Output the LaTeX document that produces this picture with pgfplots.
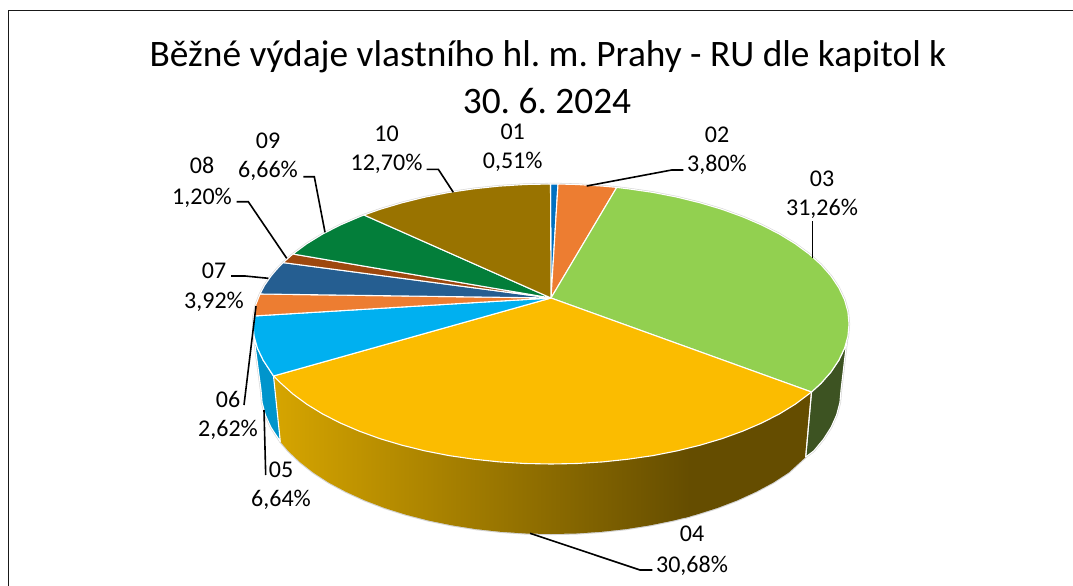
\documentclass[border=0pt]{standalone}
\usepackage{fontspec}
\setmainfont{Carlito}
\usepackage{pgfplots}
\usepackage{pgfplotstable}
\pgfplotsset{compat=1.18}
\frenchspacing

\definecolor{c01}{HTML}{0070C0}
\definecolor{c02}{HTML}{ED7D31}
\definecolor{c03}{HTML}{92D050}
\definecolor{c04}{HTML}{FBBC00}
\definecolor{c05}{HTML}{00B0F0}
\definecolor{c06}{HTML}{ED7D31}
\definecolor{c07}{HTML}{255E91}
\definecolor{c08}{HTML}{9E480E}
\definecolor{c09}{HTML}{037E3A}
\definecolor{c10}{HTML}{997300}
\definecolor{w03}{HTML}{3D5322}
\definecolor{w05}{HTML}{0095CC}
\definecolor{w04a}{HTML}{D6A500}
\definecolor{w04b}{HTML}{654D00}
\definecolor{rimgray}{HTML}{D4D4D4}

% top faces, pixel positions
\pgfplotstableread{
x y
551 298
550.5 184
558 184
}\sOne
\pgfplotstableread{
x y
551 298
558 184
577 184.5
602.7 186.1
616.7 187.4
}\sTwo
\pgfplotstableread{
x y
551 298
616.7 187.4
628.1 188.8
652.9 192.4
676.9 197.1
700 202.8
721.9 209.3
742.6 216.8
761.7 225
779.3 234
795.1 243.7
809.1 254
821.1 264.8
831 276.1
838.8 287.8
844.5 299.7
847.9 311.8
849 324
847.9 336.2
844.5 348.3
838.8 360.2
831 371.9
821.1 383.2
811.5 392
}\sThree
\pgfplotstableread{
x y
551 298
811.5 392
795.1 404.3
779.3 414
761.7 423
742.6 431.2
721.9 438.7
700 445.2
676.9 450.9
652.9 455.6
628.1 459.2
602.7 461.9
577 463.5
551 464
525 463.5
499.3 461.9
473.9 459.2
449.1 455.6
425.1 450.9
402 445.2
380.1 438.7
359.4 431.2
340.3 423
322.7 414
306.9 404.3
292.9 394
280.9 383.2
273.5 376
}\sFour
\pgfplotstableread{
x y
551 298
273.5 376
263.2 360.2
257.5 348.3
254.1 336.2
253 324
253.5 316
}\sFive
\pgfplotstableread{
x y
551 298
253.5 316
255.9 304.5
260 294
}\sSix
\pgfplotstableread{
x y
551 298
260 294
264.5 285.4
271 276.1
276.7 269.3
283.2 262.6
}\sSeven
\pgfplotstableread{
x y
551 298
283.2 262.6
292.9 254
}\sEight
\pgfplotstableread{
x y
551 298
292.9 254
306.9 243.7
322.7 234
340.3 225
359.4 216.8
364 215
}\sNine
\pgfplotstableread{
x y
551 298
364 215
380.1 209.3
402 202.8
425.1 197.1
449.1 192.4
473.9 188.8
499.3 186.1
525 184.5
550.5 184
}\sTen

% side walls
\pgfplotstableread{
x y
846.8 341
844.5 348.3
838.8 360.2
831 371.9
821.1 383.2
811.5 392
805.7 457
813.8 450.9
823.5 439.2
831.1 427.3
836.6 415
839.9 402.6
841 390
}\wThree
\pgfplotstableread{
x y
685 449
700 445.2
721.9 438.7
742.6 431.2
761.7 423
779.3 414
795.1 404.3
811.5 392
805.7 457
788.6 472.6
773.2 482.6
756 491.8
737.4 500.3
717.3 508
696 514.7
685 517.7
}\wFourDark
\pgfplotstableread{
x y
690 447.8
676.9 450.9
652.9 455.6
628.1 459.2
602.7 461.9
577 463.5
551 464
525 463.5
499.3 461.9
473.9 459.2
449.1 455.6
425.1 450.9
402 445.2
380.1 438.7
359.4 431.2
340.3 423
322.7 414
306.9 404.3
292.9 394
280.9 383.2
273.5 376
280.3 441.6
288.2 450.9
299.9 462
313.4 472.6
328.8 482.6
346 491.8
364.6 500.3
384.7 508
406 514.7
428.4 520.5
451.8 525.3
475.9 529.1
500.6 531.8
525.7 533.5
551 534
576.3 533.5
601.4 531.8
626.1 529.1
650.2 525.3
673.6 520.5
690 516.4
}\wFourGrad
\pgfplotstableread{
x y
273.5 376
263.2 360.2
257.5 348.3
254.1 336.2
253 330
261 390
262.1 402.6
265.4 415
270.9 427.3
280.3 441.6
}\wFive

\newcommand{\rim}[1]{\addplot[draw=rimgray,line width=2.2bp,line join=round] table {#1} -- cycle;}
\newcommand{\slice}[2]{\addplot[fill=#2,draw=white,line width=1.1bp,line join=round] table {#1} -- cycle;}
\newcommand{\leader}[1]{\addplot[black,line width=1.6bp] coordinates {#1};}
\newcommand{\lab}[5]{%
  \node[anchor=base,inner sep=0pt] at (#1,#2) {#3};
  \node[anchor=base,inner sep=0pt] at (#1,#4) {#5};}

\begin{document}
\begin{tikzpicture}
\begin{axis}[
    scale only axis,
    width=1073bp,
    height=586bp,
    xmin=0, xmax=1073,
    ymin=0, ymax=586,
    y dir=reverse,
    hide axis,
    clip=true,
    font=\fontsize{24.1}{29}\selectfont,
]
% keeps the page as large as the whole plot area
\addplot[draw=none] coordinates {(0,0) (1073,586)};
% chart frame
\addplot[draw=black!90,line width=1.6bp] coordinates {(1073,10.5) (8.5,10.5) (8.5,586)};

% pale outline round the whole pie
\rim{\wThree}
\rim{\wFourDark}
\rim{\wFourGrad}
\rim{\wFive}
\rim{\sOne}\rim{\sTwo}\rim{\sThree}\rim{\sFour}\rim{\sFive}
\rim{\sSix}\rim{\sSeven}\rim{\sEight}\rim{\sNine}\rim{\sTen}

% walls
\addplot[fill=w04b,draw=none] table {\wFourDark} -- cycle;
\addplot[left color=w04a,right color=w04b,draw=none] table {\wFourGrad} -- cycle;
\slice{\wThree}{w03}
\slice{\wFive}{w05}
\addplot[white,line width=1bp] coordinates {(811.5,392) (805.7,457)};

% top faces
\slice{\sOne}{c01}
\slice{\sTwo}{c02}
\slice{\sThree}{c03}
\slice{\sFour}{c04}
\slice{\sFive}{c05}
\slice{\sSix}{c06}
\slice{\sSeven}{c07}
\slice{\sEight}{c08}
\slice{\sNine}{c09}
\slice{\sTen}{c10}

% leader lines
\leader{(586.7,186) (671.7,170) (683.3,170)}
\leader{(812.3,258.3) (812.3,220.7)}
\leader{(530,533.3) (640,570) (652.3,570)}
\leader{(264,410) (265.7,475)}
\leader{(256,306) (244,405)}
\leader{(268.3,278.3) (245,276) (231,276)}
\leader{(286.7,258.3) (248.3,201.7) (236.7,201.7)}
\leader{(325,232.3) (314.3,176.7) (303.3,176.7)}
\leader{(453.3,192.3) (438.3,169.3) (426.7,169.3)}

% labels
\lab{512.7}{139.5}{01}{168.5}{0,51\%}
\lab{717}{142}{02}{171}{3,80\%}
\lab{822}{186}{03}{215}{31,26\%}
\lab{692}{541}{04}{572}{30,68\%}
\lab{281}{477}{05}{506}{6,64\%}
\lab{228}{407}{06}{436}{2,62\%}
\lab{214}{278}{07}{308}{3,92\%}
\lab{202}{173}{08}{204}{1,20\%}
\lab{268}{148}{09}{177}{6,66\%}
\lab{386.5}{141}{10}{170}{12,70\%}

% title
\node[anchor=base,inner sep=0pt,font=\fontsize{37.5}{45}\selectfont] at (548,67) {Běžné výdaje vlastního hl. m. Prahy - RU dle kapitol k};
\node[anchor=base,inner sep=0pt,font=\fontsize{37.5}{45}\selectfont] at (547,113) {30. 6. 2024};
\end{axis}
\end{tikzpicture}
\end{document}
